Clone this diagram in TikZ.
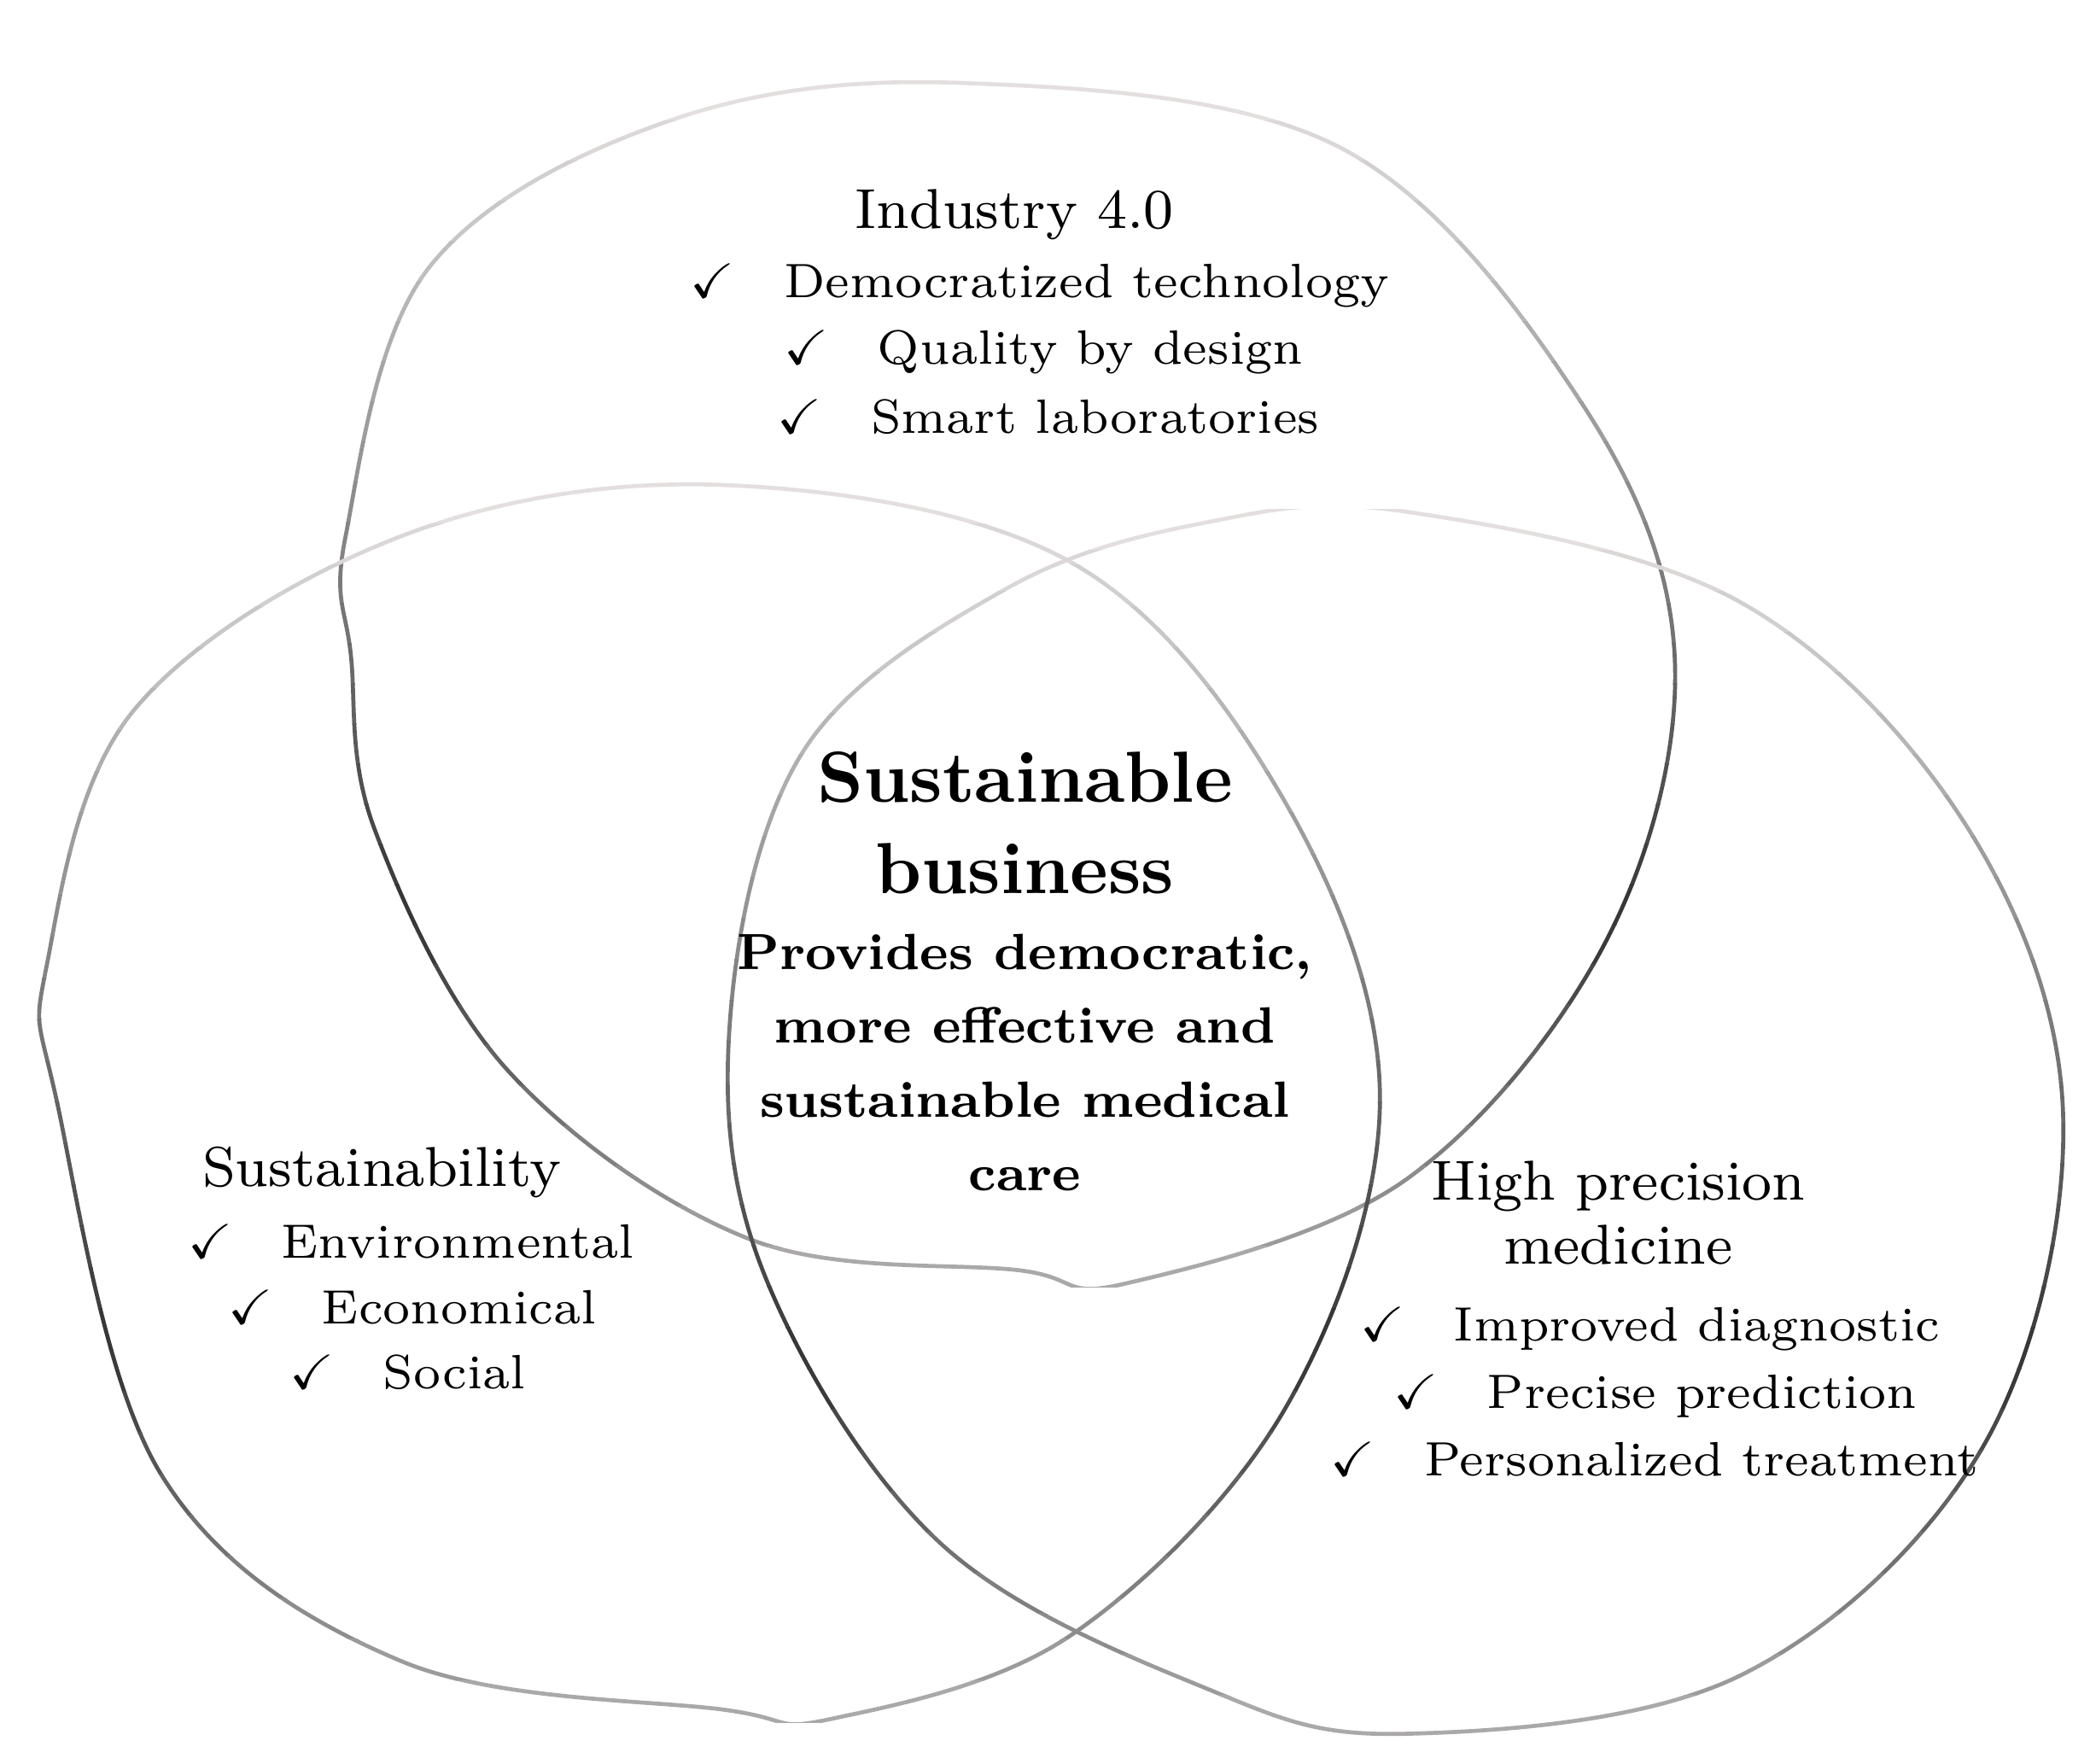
\documentclass[tikz,border=0pt]{standalone}
\usepackage{amssymb}
\colorlet{lt}{red!8!gray!20}
\colorlet{dk}{black!80}
\newcommand{\blob}[3]{%
\foreach \i in {0,...,29}{%
 \pgfmathsetmacro{\hh}{(#2-#1)/30}%
 \pgfmathsetmacro{\ya}{#1+\i*\hh}%
 \pgfmathsetmacro{\yb}{#1+(\i+1)*\hh+0.5}%
 \pgfmathsetmacro{\tt}{(\i+0.5)/30}%
 \pgfmathsetmacro{\pp}{\tt<0.7 ? 100*\tt/0.7 : 100-(\tt-0.7)/0.3*70}%
 \begin{scope}
 \clip (-10,\ya) rectangle (1600,\yb);
 \colorlet{bc}{dk!\pp!lt}
 \draw[line width=0.6pt, bc] plot[smooth cycle, tension=0.6] coordinates {#3};
 \end{scope}}}
\tikzset{hd/.style={font=\fontsize{8.4}{9.6}\selectfont, align=center},
 it/.style={font=\fontsize{7.2}{9.2}\selectfont, anchor=west}}
\begin{document}
\begin{tikzpicture}[x=0.2pt,y=-0.2pt]
\useasboundingbox (0,0) rectangle (1560,1316);
\blob{60}{960}{(720,62)(1000,110)(1180,300)(1250,490)(1200,700)(1050,880)(840,958)(760,948)(560,925)(380,800)(280,620)(262,490)(258,400)(320,200)(500,90)}
\blob{360}{1285}{(540,362)(800,420)(960,600)(1030,820)(960,1050)(800,1220)(620,1283)(540,1276)(300,1240)(120,1100)(42,820)(35,720)(100,530)(300,400)}
\blob{380}{1296}{(1050,382)(1300,450)(1470,620)(1540,835)(1480,1080)(1300,1250)(1050,1294)(900,1260)(700,1150)(570,950)(545,760)(600,560)(750,440)(900,390)}
\node[hd] (ind) at (757,160) {Industry 4.0};
\node[it] (i1) at (497,213) {\checkmark\quad Democratized technology};
\node[it] (i2) at (567,263) {\checkmark\quad Quality by design};
\node[it] (i3) at (562,311) {\checkmark\quad Smart laboratories};
\node[hd] (sus) at (285,875) {Sustainability};
\node[it] (s1) at (122,927) {\checkmark\quad Environmental};
\node[it] (s2) at (152,976) {\checkmark\quad Economical};
\node[it] (s3) at (198,1024) {\checkmark\quad Social};
\node[hd] (hp) at (1208,905) {High precision\\medicine};
\node[it] (h1) at (997,992) {\checkmark\quad Improved diagnostic};
\node[it] (h2) at (1022,1042) {\checkmark\quad Precise prediction};
\node[it] (h3) at (975,1089) {\checkmark\quad Personalized treatment};
\node[font=\fontsize{10.8}{13.6}\selectfont\bfseries, align=center] (sb) at (765,614) {Sustainable\\business};
\node[font=\fontsize{7.6}{11}\selectfont\bfseries, align=center] (pd) at (765,793) {Provides democratic,\\more effective and\\sustainable medical\\care};
\end{tikzpicture}
\end{document}
